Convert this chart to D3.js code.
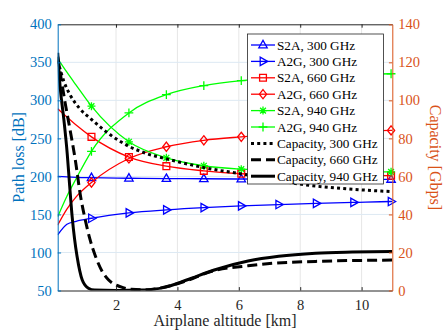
<!DOCTYPE html>
<html><head><meta charset="utf-8">
<script src="https://cdn.jsdelivr.net/npm/d3@7"></script>
<style>
body{margin:0;background:#fff;}
svg{display:block;font-family:"Liberation Serif","Times New Roman",serif;}
</style></head>
<body><svg id="c" width="443" height="332"></svg>
<script>
// ---- data ----
const altitude = [0.1, 0.4, 0.7, 1.2, 2.42, 3.64, 4.86, 6.08, 7.3, 8.52, 9.74, 10.96, 11];
const markerIdx = [3, 4, 5, 6, 7, 8, 9, 10, 11];
const s2a300 = [200, 199.3, 198.8, 198.3, 197.6, 197.2, 196.9, 196.6, 196.4, 196.2, 196.1, 196, 196];
const a2g300 = [123, 137, 141, 145, 152, 156, 159, 161.2, 163, 164.5, 165.8, 167, 167];
const s2a660 = [289, 278, 267.5, 252, 225.5, 213.5, 207.3, 203.5, 202.3, 201.6, 201.2, 201, 201];
const a2g660 = [136, 157, 173, 192, 223.6, 239, 247.5, 252, 255.5, 257.8, 259.3, 260.5, 260.5];
const s2a940 = [355, 337, 320, 292.3, 245.5, 224.5, 214, 209.5, 207.8, 207, 206.5, 206, 206];
const a2g940 = [147, 174, 197, 233, 283.5, 307.5, 319.5, 326, 329.5, 332, 333.8, 335, 335];

const cap300Alt = [0.1, 0.3, 0.5, 0.8, 1.2, 1.8, 2.4, 3.0, 3.7, 4.9, 6.2, 7.2, 8.2, 9.5, 11];
const cap300 = [121, 110, 103, 96, 90, 82, 76, 72, 69, 64.5, 61, 58, 55.5, 53.5, 52];
const cap660Alt = [0.1, 0.35, 0.52, 0.68, 0.84, 1.0, 1.15, 1.33, 1.55, 1.76, 2.14, 2.5, 3.0, 3.5, 4.2, 5.2, 6.3, 7.1, 8.5, 11];
const cap660 = [123, 98, 83, 68, 50, 37, 27, 18, 10, 5.5, 2, 0.6, 0.4, 1.5, 4.6, 10.5, 13, 14.3, 15.3, 16];
const cap940Alt = [0.1, 0.18, 0.3, 0.41, 0.49, 0.57, 0.65, 0.73, 0.9, 1.1, 1.3, 2.0, 2.8, 3.55, 4.3, 5.2, 6.3, 7.3, 8.5, 9.7, 11];
const cap940 = [125, 107, 90, 72, 55, 39, 27, 18, 5.5, 1.2, 0.2, 0, 0.2, 1.5, 5.5, 10.8, 15.5, 18, 19.6, 20.2, 20.5];

const xTicks = [2, 4, 6, 8, 10];
const yLeftTicks = [50, 100, 150, 200, 250, 300, 350, 400];
const yRightTicks = [0, 20, 40, 60, 80, 100, 120, 140];

const legendLabels = ["S2A, 300 GHz", "A2G, 300 GHz", "S2A, 660 GHz", "A2G, 660 GHz",
  "S2A, 940 GHz", "A2G, 940 GHz", "Capacity, 300 GHz", "Capacity, 660 GHz", "Capacity, 940 GHz"];

// ---- layout ----
const L = 57.7, R = 392.3, T = 24.3, B = 290.5;
const blue = "#0072BD", orange = "#D95319";
const svg = d3.select("#c");
const x = d3.scaleLinear().domain([0.1, 11]).range([L, R]);
const yL = d3.scaleLinear().domain([50, 400]).range([B, T]);
const yR = d3.scaleLinear().domain([0, 140]).range([B, T]);

svg.append("rect").attr("x", 0).attr("y", 0).attr("width", 443).attr("height", 332).attr("fill", "#fff");

// grid
const grid = svg.append("g");
grid.selectAll("line.v").data(xTicks).join("line")
  .attr("x1", d => x(d)).attr("x2", d => x(d)).attr("y1", T).attr("y2", B)
  .attr("stroke", "#e6e6e6").attr("stroke-width", 1);
grid.selectAll("line.h").data(yLeftTicks.slice(1, -1)).join("line")
  .attr("x1", L).attr("x2", R).attr("y1", d => yL(d)).attr("y2", d => yL(d))
  .attr("stroke", "#dde9f3").attr("stroke-width", 1);

svg.append("defs").append("clipPath").attr("id", "clip")
  .append("rect").attr("x", L).attr("y", T).attr("width", R - L).attr("height", B - T);

const series = [
  {v: s2a300, c: "#0000FF", m: "tri"},
  {v: a2g300, c: "#0000FF", m: "tri-r"},
  {v: s2a660, c: "#FF0000", m: "sq"},
  {v: a2g660, c: "#FF0000", m: "dia"},
  {v: s2a940, c: "#00FF00", m: "star"},
  {v: a2g940, c: "#00FF00", m: "plus"}
];
const caps = [
  {a: cap300Alt, v: cap300, dash: "3,3.2"},
  {a: cap660Alt, v: cap660, dash: "10,5"},
  {a: cap940Alt, v: cap940, dash: null}
];

function markerPath(m) {
  switch (m) {
    case "tri": return "M0,-4.6L4.2,2.8L-4.2,2.8Z";
    case "tri-r": return "M4.6,0L-2.8,-4.2L-2.8,4.2Z";
    case "sq": return "M-3.4,-3.4H3.4V3.4H-3.4Z";
    case "dia": return "M0,-4.6L3.6,0L0,4.6L-3.6,0Z";
    case "star": return "M-4,0H4M0,-4V4M-2.9,-2.9L2.9,2.9M-2.9,2.9L2.9,-2.9";
    case "plus": return "M-4.4,0H4.4M0,-4.4V4.4";
  }
}

const plot = svg.append("g");
const lineL = d3.line().x((d, i) => x(altitude[i])).y(d => yL(d)).curve(d3.curveMonotoneX);
series.forEach(s => {
  plot.append("path").attr("d", lineL(s.v)).attr("clip-path", "url(#clip)")
    .attr("fill", "none").attr("stroke", s.c).attr("stroke-width", 1.3);
  plot.selectAll(null).data(markerIdx).join("path")
    .attr("transform", i => `translate(${x(altitude[i])},${yL(s.v[i])})`)
    .attr("d", markerPath(s.m)).attr("fill", "none").attr("stroke", s.c).attr("stroke-width", 1.3);
});
caps.forEach(s => {
  const ln = d3.line().x((d, i) => x(s.a[i])).y(d => yR(d)).curve(d3.curveMonotoneX);
  plot.append("path").attr("d", ln(s.v)).attr("clip-path", "url(#clip)")
    .attr("fill", "none").attr("stroke", "#000").attr("stroke-width", 3)
    .attr("stroke-dasharray", s.dash);
});

// axes
const tk = 3.4;
const axB = svg.append("g").attr("transform", `translate(0,${B})`)
  .call(d3.axisBottom(x).tickValues(xTicks).tickSizeInner(-tk).tickSizeOuter(0).tickPadding(9).tickFormat(d3.format("d")));
const axT = svg.append("g").attr("transform", `translate(0,${T})`)
  .call(d3.axisTop(x).tickValues(xTicks).tickSizeInner(-tk).tickSizeOuter(0).tickFormat(""));
[axB, axT].forEach(a => { a.selectAll("path,line").attr("stroke", "#262626"); });
axB.selectAll("text").attr("fill", "#262626").attr("font-size", 14.5).attr("font-family", "Liberation Serif");

const axLeft = svg.append("g").attr("transform", `translate(${L},0)`)
  .call(d3.axisLeft(yL).tickValues(yLeftTicks).tickSizeInner(-tk).tickSizeOuter(0).tickPadding(6));
axLeft.selectAll("path,line").attr("stroke", blue);
axLeft.selectAll("text").attr("fill", blue).attr("font-size", 14.5).attr("font-family", "Liberation Serif");

const axRight = svg.append("g").attr("transform", `translate(${R},0)`)
  .call(d3.axisRight(yR).tickValues(yRightTicks).tickSizeInner(-tk).tickSizeOuter(0).tickPadding(6));
axRight.selectAll("path,line").attr("stroke", orange);
axRight.selectAll("text").attr("fill", orange).attr("font-size", 14.5).attr("font-family", "Liberation Serif");

// axis titles
svg.append("text").attr("x", (L + R) / 2).attr("y", 326).attr("text-anchor", "middle")
  .attr("font-size", 16).attr("fill", "#262626").text("Airplane altitude [km]");
svg.append("text").attr("transform", `translate(24,${(T + B) / 2}) rotate(-90)`).attr("text-anchor", "middle")
  .attr("font-size", 16).attr("fill", blue).text("Path loss [dB]");
svg.append("text").attr("transform", `translate(430,${(T + B) / 2}) rotate(90)`).attr("text-anchor", "middle")
  .attr("font-size", 16).attr("fill", orange).text("Capacity [Gbps]");

// legend
const lg = svg.append("g");
lg.append("rect").attr("x", 247.5).attr("y", 34).attr("width", 136).attr("height", 150)
  .attr("fill", "#fff").attr("stroke", "#262626").attr("stroke-width", 0.8);
const items = series.map(s => ({c: s.c, m: s.m, dash: null, w: 1.3}))
  .concat(caps.map(s => ({c: "#000", m: null, dash: s.dash, w: 3})));
items.forEach((it, i) => {
  const yy = 45 + i * 16.4;
  lg.append("line").attr("x1", 251).attr("x2", 275).attr("y1", yy).attr("y2", yy)
    .attr("stroke", it.c).attr("stroke-width", it.w).attr("stroke-dasharray", it.dash);
  if (it.m) lg.append("path").attr("transform", `translate(263,${yy})`).attr("d", markerPath(it.m))
    .attr("fill", "none").attr("stroke", it.c).attr("stroke-width", 1.3);
  lg.append("text").attr("x", 277).attr("y", yy + 4.6).attr("font-size", 13.2).attr("fill", "#000")
    .text(legendLabels[i]);
});
</script></body></html>
